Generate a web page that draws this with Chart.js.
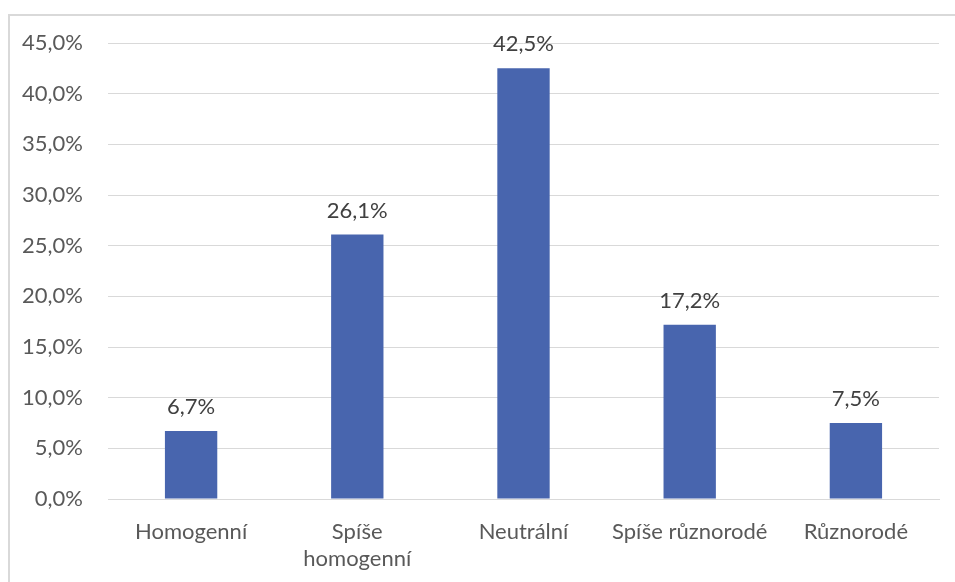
<!DOCTYPE html>
<html>
<head>
<meta charset="utf-8">
<script src="https://cdn.jsdelivr.net/npm/chart.js@4"></script>
<style>
    body { margin: 0; background: #fff; }
    #frame {
        position: absolute; left: 8px; top: 14px;
        width: 980px; height: 600px;
        border: 2px solid #d9d9d9; box-sizing: border-box;
    }
    #wrap { position: absolute; left: 0; top: 0; width: 955px; height: 582px; }
</style>
</head>
<body>
<div id="frame"></div>
<div id="wrap"><canvas id="chart" width="955" height="582"></canvas></div>
<script>
const categories = ['Homogenní', ['Spíše', 'homogenní'], 'Neutrální', 'Spíše různorodé', 'Různorodé'];
const values = [6.7, 26.1, 42.5, 17.2, 7.5];
const yMax = 45;
const yStep = 5;

const fmt = v => v.toFixed(1).replace('.', ',') + '%';
const fontFamily = 'Lato, "Open Sans", sans-serif';

// popisky nad sloupci
const valueLabels = {
    id: 'valueLabels',
    afterDatasetsDraw(chart) {
        const ctx = chart.ctx;
        const meta = chart.getDatasetMeta(0);
        ctx.save();
        ctx.font = '22px ' + fontFamily;
        ctx.fillStyle = '#404040';
        ctx.textAlign = 'center';
        ctx.textBaseline = 'middle';
        meta.data.forEach((bar, i) => {
            ctx.fillText(fmt(values[i]), bar.x, bar.y - 24);
        });
        ctx.restore();
    }
};

new Chart(document.getElementById('chart'), {
    type: 'bar',
    data: {
        labels: categories,
        datasets: [{
            data: values,
            backgroundColor: '#4865ae',
            categoryPercentage: 1,
            barPercentage: 0.315
        }]
    },
    options: {
        responsive: false,
        animation: false,
        layout: { padding: { top: 43, right: 16, left: 0, bottom: 0 } },
        plugins: { legend: { display: false }, tooltip: { enabled: false } },
        scales: {
            x: {
                grid: { display: false, drawTicks: false },
                border: { color: '#d9d9d9', width: 1 },
                ticks: {
                    color: '#595959',
                    font: { family: fontFamily, size: 22, lineHeight: 1.2 },
                    padding: 20,
                    maxRotation: 0,
                    autoSkip: false
                },
                afterFit(scale) { scale.height = 83; }
            },
            y: {
                min: 0,
                max: yMax,
                grid: { color: '#d9d9d9', lineWidth: 1, drawTicks: false },
                border: { display: false },
                ticks: {
                    stepSize: yStep,
                    color: '#595959',
                    font: { family: fontFamily, size: 22 },
                    padding: 25,
                    callback: v => fmt(v)
                },
                afterFit(scale) { scale.width = 108; }
            }
        }
    },
    plugins: [valueLabels]
});
</script>
</body>
</html>
